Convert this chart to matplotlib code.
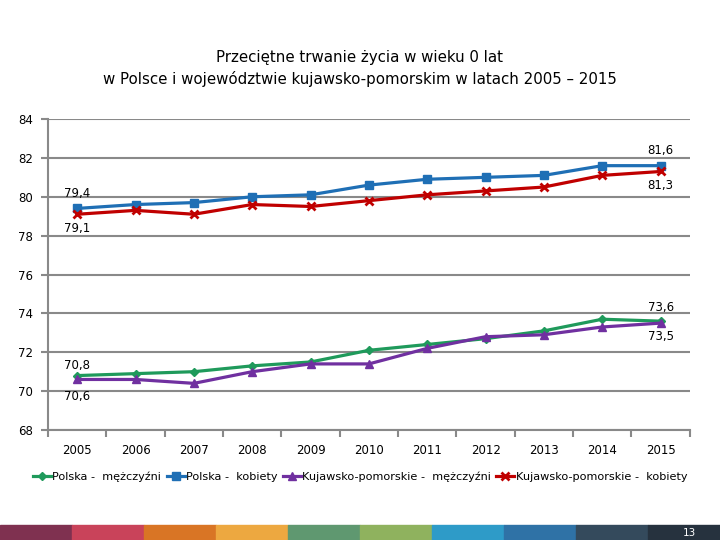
import matplotlib.pyplot as plt
from matplotlib.patches import Rectangle

years = ['2005', '2006', '2007', '2008', '2009', '2010', '2011', '2012', '2013', '2014', '2015']
polska_m = [70.8, 70.9, 71.0, 71.3, 71.5, 72.1, 72.4, 72.7, 73.1, 73.7, 73.6]
polska_k = [79.4, 79.6, 79.7, 80.0, 80.1, 80.6, 80.9, 81.0, 81.1, 81.6, 81.6]
kp_m = [70.6, 70.6, 70.4, 71.0, 71.4, 71.4, 72.2, 72.8, 72.9, 73.3, 73.5]
kp_k = [79.1, 79.3, 79.1, 79.6, 79.5, 79.8, 80.1, 80.3, 80.5, 81.1, 81.3]
names = ['Polska -  mężczyźni', 'Polska -  kobiety', 'Kujawsko-pomorskie -  mężczyźni', 'Kujawsko-pomorskie -  kobiety']

GREEN, BLUE, PURPLE, RED = '#1f9a5b', '#1f6fb5', '#7030a0', '#c00000'
GRID = '#898989'

fig = plt.figure(figsize=(7.2, 5.4), dpi=100)
ax = fig.add_axes([0.0667, 0.2037, 0.8913, 0.5759])

x = list(range(len(years)))
ax.plot(x, polska_m, color=GREEN, lw=2.3, marker='D', ms=4, label=names[0], zorder=3)
ax.plot(x, polska_k, color=BLUE, lw=2.3, marker='s', ms=6, label=names[1], zorder=3)
ax.plot(x, kp_m, color=PURPLE, lw=2.3, marker='^', ms=6, label=names[2], zorder=3)
ax.plot(x, kp_k, color=RED, lw=2.3, marker='x', ms=6, mew=2, label=names[3], zorder=3)

ax.set_ylim(68, 84)
ax.set_yticks(range(68, 85, 2))
ax.set_xlim(-0.5, len(years) - 0.5)
ax.set_xticks(x)
ax.set_xticklabels(years)
ax.set_xticks([i - 0.5 for i in range(len(years) + 1)], minor=True)
ax.grid(axis='y', color=GRID, lw=1.5, zorder=0)
ax.set_axisbelow(True)
for s in ['top', 'right']:
    ax.spines[s].set_visible(False)
for s in ['left', 'bottom']:
    ax.spines[s].set_color(GRID)
    ax.spines[s].set_linewidth(1.5)
ax.tick_params(axis='x', which='major', length=0, pad=10, labelsize=8.5)
ax.tick_params(axis='x', which='minor', length=5, width=1.5, color=GRID, direction='out')
ax.tick_params(axis='y', length=5, width=1.5, color=GRID, labelsize=8.5, pad=6)


def fmt(v):
    return f'{v:.1f}'.replace('.', ',')


# data labels at first and last points: (series, index, offset in points)
labels = [(polska_k, 0, 11), (kp_k, 0, -10), (polska_m, 0, 7), (kp_m, 0, -12),
          (polska_k, 10, 11), (kp_k, 10, -10), (polska_m, 10, 10), (kp_m, 10, -10)]
for ser, i, dy in labels:
    ax.annotate(fmt(ser[i]), (x[i], ser[i]), xytext=(0, dy), textcoords='offset points',
                ha='center', va='center', fontsize=8.5)

fig.text(0.5, 0.893, 'Przeciętne trwanie życia w wieku 0 lat', ha='center', va='center', fontsize=10.8)
fig.text(0.5, 0.854, 'w Polsce i województwie kujawsko-pomorskim w latach 2005 – 2015', ha='center', va='center',
         fontsize=10.8)

leg = fig.legend(loc='center', bbox_to_anchor=(0.5, 0.117), ncol=4, frameon=False, handlelength=1.6,
                 handletextpad=0.1, columnspacing=0.5, prop={'size': 8.1})

# colour stripe at bottom
stripe = ['#7f3150', '#c9435a', '#d97525', '#eda840', '#5f9870', '#8fb25e', '#2e9bc8', '#2f72a6', '#344a5c',
          '#26323e']
for i, c in enumerate(stripe):
    fig.patches.append(Rectangle((i / 10, 0), 0.1, 15 / 540, transform=fig.transFigure, color=c, zorder=0))
fig.text(0.957, 0.013, '13', color='white', fontsize=7.5, ha='center', va='center')

fig.savefig('out.png', dpi=100)
